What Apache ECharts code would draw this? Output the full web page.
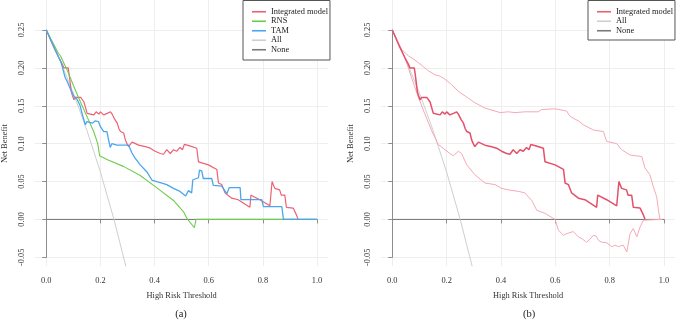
<!DOCTYPE html>
<html>
<head>
<meta charset="utf-8">
<script src="https://cdn.jsdelivr.net/npm/echarts@6/dist/echarts.min.js"></script>
<style>
html,body{margin:0;padding:0;background:#fff;}
#chart{width:677px;height:321px;}
</style>
</head>
<body>
<div id="chart"></div>
<script>
// ---- data (threshold, net benefit) ----
const integratedModel = [[0,0.25],[0.028,0.227],[0.047,0.213],[0.059,0.205],[0.065,0.2],[0.081,0.2],[0.086,0.187],[0.092,0.169],[0.096,0.164],[0.102,0.158],[0.108,0.161],[0.127,0.161],[0.133,0.159],[0.139,0.155],[0.145,0.154],[0.151,0.14],[0.157,0.138],[0.176,0.138],[0.184,0.142],[0.194,0.139],[0.2,0.142],[0.212,0.138],[0.225,0.14],[0.237,0.142],[0.243,0.139],[0.253,0.132],[0.262,0.127],[0.268,0.12],[0.274,0.116],[0.286,0.114],[0.292,0.105],[0.298,0.1],[0.304,0.096],[0.31,0.099],[0.317,0.102],[0.341,0.098],[0.366,0.096],[0.384,0.094],[0.402,0.09],[0.421,0.087],[0.433,0.086],[0.445,0.092],[0.458,0.087],[0.47,0.092],[0.482,0.09],[0.494,0.095],[0.503,0.092],[0.51,0.099],[0.53,0.097],[0.556,0.094],[0.562,0.076],[0.599,0.072],[0.63,0.066],[0.636,0.048],[0.648,0.046],[0.66,0.035],[0.685,0.028],[0.709,0.026],[0.752,0.016],[0.756,0.032],[0.789,0.026],[0.826,0.018],[0.834,0.05],[0.844,0.041],[0.862,0.039],[0.868,0.032],[0.881,0.032],[0.887,0.016],[0.912,0.015],[0.924,0.006],[0.93,0]];
const rns = [[0,0.25],[0.045,0.219],[0.052,0.216],[0.076,0.198],[0.101,0.176],[0.125,0.156],[0.15,0.136],[0.175,0.116],[0.19,0.1],[0.197,0.084],[0.224,0.079],[0.285,0.07],[0.347,0.058],[0.4,0.044],[0.47,0.025],[0.507,0.01],[0.52,0.001],[0.547,-0.011],[0.553,0],[1,0]];
const tam = [[0,0.25],[0.039,0.219],[0.055,0.207],[0.066,0.192],[0.07,0.187],[0.076,0.183],[0.089,0.172],[0.095,0.168],[0.101,0.163],[0.113,0.159],[0.125,0.15],[0.132,0.14],[0.144,0.125],[0.15,0.129],[0.16,0.128],[0.17,0.127],[0.18,0.13],[0.193,0.129],[0.199,0.123],[0.212,0.116],[0.224,0.116],[0.23,0.105],[0.236,0.095],[0.242,0.1],[0.261,0.098],[0.285,0.098],[0.304,0.098],[0.316,0.088],[0.328,0.081],[0.347,0.072],[0.371,0.063],[0.39,0.052],[0.408,0.05],[0.427,0.048],[0.445,0.046],[0.47,0.041],[0.494,0.037],[0.515,0.031],[0.525,0.038],[0.537,0.035],[0.541,0.052],[0.562,0.055],[0.566,0.065],[0.574,0.064],[0.58,0.054],[0.611,0.054],[0.617,0.045],[0.648,0.044],[0.667,0.034],[0.673,0.034],[0.676,0.042],[0.716,0.042],[0.719,0.026],[0.796,0.026],[0.802,0.017],[0.87,0.017],[0.876,0],[1,0]];
const treatAll = [[0,0.25],[0.05,0.2105],[0.1,0.1667],[0.15,0.1176],[0.2,0.0625],[0.25,0],[0.294,-0.062]];
const treatNone = [[0,0],[1,0]];
const ciUpper = [[0,0.25],[0.035,0.224],[0.059,0.216],[0.096,0.207],[0.133,0.196],[0.157,0.191],[0.176,0.189],[0.194,0.185],[0.218,0.178],[0.243,0.169],[0.28,0.16],[0.304,0.154],[0.341,0.147],[0.378,0.143],[0.397,0.141],[0.427,0.142],[0.452,0.141],[0.488,0.142],[0.537,0.142],[0.55,0.145],[0.599,0.146],[0.642,0.143],[0.654,0.136],[0.685,0.13],[0.703,0.125],[0.74,0.118],[0.777,0.116],[0.789,0.103],[0.826,0.1],[0.844,0.092],[0.875,0.085],[0.918,0.083],[0.93,0.068],[0.948,0.059],[0.96,0.044],[0.973,0.03],[0.979,0.014],[0.985,0],[0.995,0]];
const ciLower = [[0,0.25],[0.047,0.213],[0.071,0.187],[0.096,0.161],[0.12,0.139],[0.145,0.117],[0.169,0.099],[0.194,0.092],[0.212,0.087],[0.225,0.084],[0.243,0.09],[0.255,0.087],[0.274,0.072],[0.304,0.059],[0.341,0.048],[0.378,0.046],[0.402,0.041],[0.427,0.039],[0.464,0.037],[0.488,0.035],[0.513,0.025],[0.532,0.012],[0.562,0.008],[0.599,0],[0.611,-0.014],[0.63,-0.021],[0.64,-0.019],[0.666,-0.016],[0.685,-0.023],[0.7,-0.026],[0.715,-0.03],[0.725,-0.027],[0.74,-0.021],[0.75,-0.022],[0.76,-0.028],[0.771,-0.03],[0.79,-0.031],[0.808,-0.036],[0.82,-0.034],[0.832,-0.036],[0.84,-0.035],[0.85,-0.034],[0.863,-0.043],[0.875,-0.019],[0.887,-0.012],[0.9,-0.023],[0.912,-0.01],[0.924,-0.001],[0.93,0],[0.99,0]];
const legendLeft = ['Integrated model','RNS','TAM','All','None'];
const legendRight = ['Integrated model','All','None'];
const panelLabels = ['(a)','(b)'];

// ---- styling / layout ----
const FONT = 'Liberation Serif';
const C = {red:'#EC6275', redDark:'#E4506A', green:'#6FCB4E', blue:'#4BA6EE', all:'#CFCFCF', none:'#7A7A7A', pink:'#F5A8B5', grid:'#EEEEEE', axis:'#8C8C8C', text:'#333333'};
const panels = [
  {xl:46, xw:271, axisX:34.7},
  {xl:392.3, xw:271.7, axisX:380.7}
];
const TOP = 30, H = 227.3, AXIS_Y = 267;

const grids = [], xAxes = [], yAxes = [];
panels.forEach(p => {
  // horizontal grid lines (full plot width)
  grids.push({left:p.axisX, top:TOP, width:p.xl + p.xw*1.04 - p.axisX, height:H, containLabel:false});
  xAxes.push({type:'value', gridIndex:grids.length-1, min:0, max:1, show:false});
  yAxes.push({type:'value', gridIndex:grids.length-1, min:-0.05, max:0.25, interval:0.05,
    axisLine:{show:false}, axisTick:{show:false}, axisLabel:{show:false},
    splitLine:{show:true, lineStyle:{color:C.grid, width:1}}});
  // vertical grid lines (full plot height)
  grids.push({left:p.xl, top:0, width:p.xw, height:AXIS_Y-1, containLabel:false});
  xAxes.push({type:'value', gridIndex:grids.length-1, min:0, max:1, interval:0.2,
    axisLine:{show:false}, axisTick:{show:false}, axisLabel:{show:false},
    splitLine:{show:true, lineStyle:{color:C.grid, width:1}}});
  yAxes.push({type:'value', gridIndex:grids.length-1, min:0, max:1, show:false});
  // main plot
  grids.push({left:p.xl, top:TOP, width:p.xw, height:H, containLabel:false});
  xAxes.push({type:'value', gridIndex:grids.length-1, min:0, max:1, interval:0.2, offset:AXIS_Y-(TOP+H),
    name:'High Risk Threshold', nameLocation:'middle', nameGap:25,
    nameTextStyle:{fontFamily:FONT, fontSize:8.4, color:C.text},
    axisLine:{show:true, lineStyle:{color:C.axis, width:1}},
    axisTick:{show:true, length:4, lineStyle:{color:C.axis}},
    axisLabel:{margin:10, fontFamily:FONT, fontSize:8.4, color:C.text, showMinLabel:true, showMaxLabel:true,
      formatter:v => v.toFixed(1)},
    splitLine:{show:false}});
  yAxes.push({type:'value', gridIndex:grids.length-1, min:-0.05, max:0.25, interval:0.05, offset:p.xl-p.axisX,
    name:'Net Benefit', nameLocation:'middle', nameGap:26,
    nameTextStyle:{fontFamily:FONT, fontSize:8.4, color:C.text},
    axisLine:{show:true, lineStyle:{color:C.axis, width:1}},
    axisTick:{show:true, length:4, lineStyle:{color:C.axis}},
    axisLabel:{margin:9, rotate:90, fontFamily:FONT, fontSize:8.4, color:C.text, showMinLabel:true, showMaxLabel:true,
      formatter:v => v.toFixed(2)},
    splitLine:{show:false}});
});

function line(name, data, idx, color, width, extra) {
  return Object.assign({type:'line', name, data, xAxisIndex:idx, yAxisIndex:idx, color,
    showSymbol:false, symbol:'none', smooth:false, silent:true,
    lineStyle:{color, width}}, extra || {});
}

const series = [
  line('None', treatNone, 2, C.none, 1),
  line('All', treatAll, 2, C.all, 1, {clip:false}),
  line('Integrated model', integratedModel, 2, C.red, 1.2),
  line('RNS', rns, 2, C.green, 1.1),
  line('TAM', tam, 2, C.blue, 1.3),
  line('None', treatNone, 5, C.none, 1),
  line('All', treatAll, 5, C.all, 1, {clip:false}),
  line('upper', ciUpper, 5, C.pink, 1),
  line('lower', ciLower, 5, C.pink, 1),
  line('Integrated model', integratedModel, 5, C.redDark, 1.5)
];

const legendCommon = {orient:'vertical', top:0.5, icon:'rect', itemWidth:14, itemHeight:1.6, itemGap:0,
  selectedMode:false, backgroundColor:'#fff', borderColor:'#555', borderWidth:1, borderRadius:0,
  textStyle:{fontFamily:FONT, fontSize:8.4, color:'#222', lineHeight:9.5}};

const option = {
  animation:false,
  backgroundColor:'#fff',
  grid:grids,
  xAxis:xAxes,
  yAxis:yAxes,
  legend:[
    Object.assign({}, legendCommon, {left:243, data:legendLeft, padding:[6.5,2,5.5,9]}),
    Object.assign({}, legendCommon, {left:588, data:legendRight, padding:[6.5,2,4.5,9]})
  ],
  graphic:[
    {type:'text', x:181, y:314, style:{text:panelLabels[0], font:'10.5px "Liberation Serif"', fill:'#222', textAlign:'center', textVerticalAlign:'middle'}},
    {type:'text', x:529, y:314, style:{text:panelLabels[1], font:'10.5px "Liberation Serif"', fill:'#222', textAlign:'center', textVerticalAlign:'middle'}}
  ],
  series
};

const chart = echarts.init(document.getElementById('chart'), null, {renderer:'canvas'});
chart.setOption(option);
</script>
</body>
</html>
